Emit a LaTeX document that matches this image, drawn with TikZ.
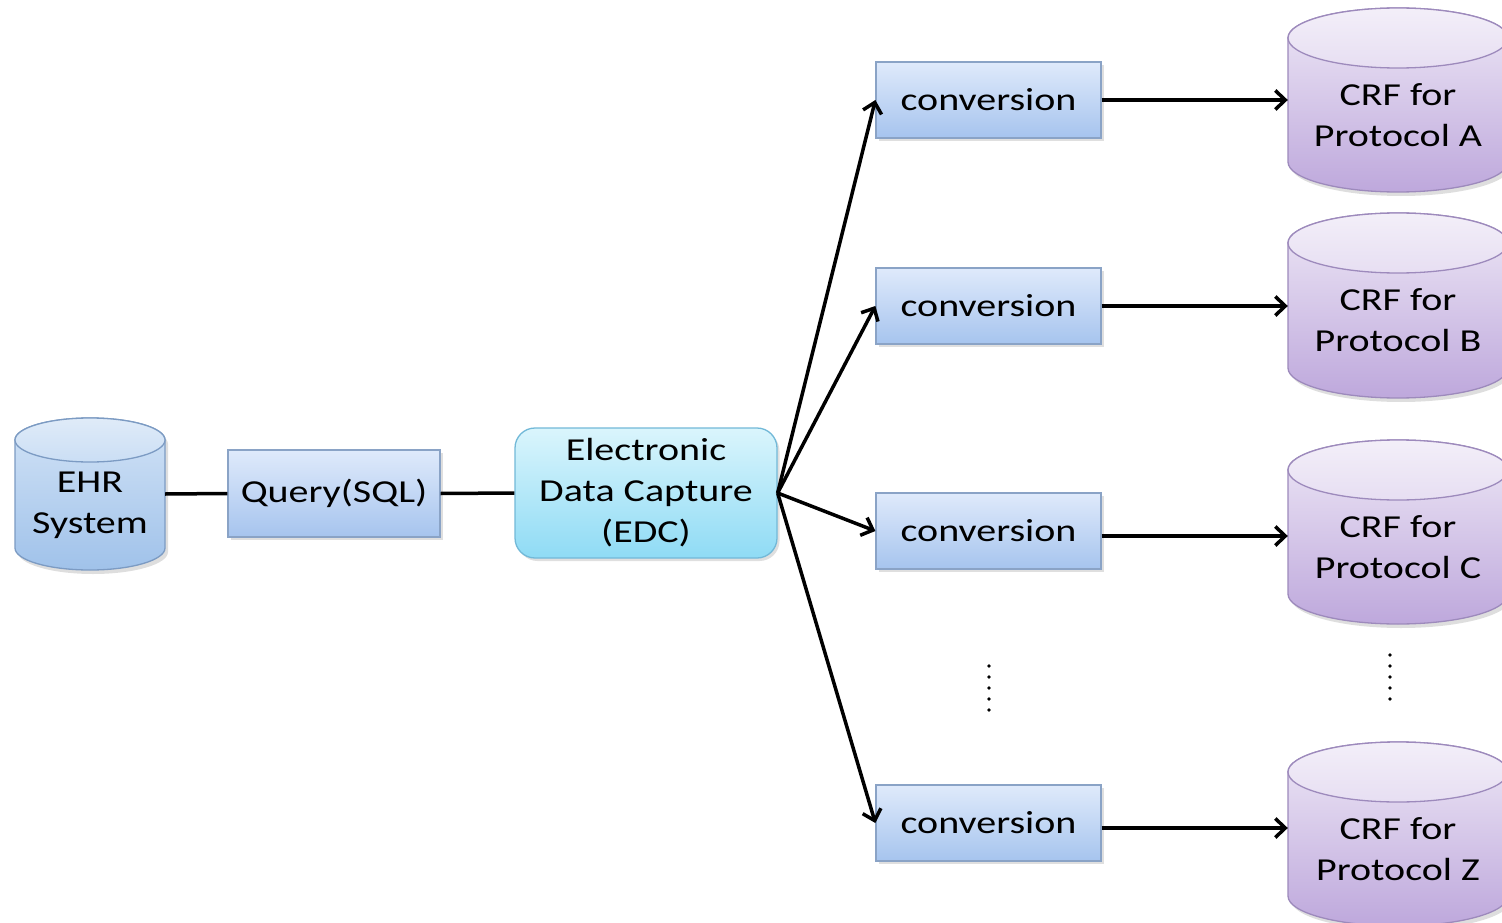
\documentclass[tikz,border=0pt]{standalone}
\usepackage{fontspec}
\setmainfont{Carlito}[FakeStretch=1.25]
\usetikzlibrary{arrows.meta,shadows}

\definecolor{boxtop}{HTML}{DFEAFB}
\definecolor{boxbot}{HTML}{A6C4EE}
\definecolor{boxline}{HTML}{8AA3C6}
\definecolor{edctop}{HTML}{DAF5FC}
\definecolor{edcbot}{HTML}{8FDBF5}
\definecolor{edcline}{HTML}{72B9D8}
\definecolor{ehrtop}{HTML}{D2E3F6}
\definecolor{ehrbot}{HTML}{A0C2EA}
\definecolor{ehrline}{HTML}{7C9BC3}
\definecolor{crftop}{HTML}{EEE8F6}
\definecolor{crfbot}{HTML}{BEA8DC}
\definecolor{crfline}{HTML}{9D8ABC}

\newcommand\diagfont{\fontsize{32}{41}\selectfont}

% Cylinder: #1 name, #2 centre x, #3 top y, #4 bottom y, #5 x radius,
% #6 y radius, #7 colour prefix, #8 text (y values measured downwards)
\newcommand\drawcyl[8]{%
  \pgfmathsetmacro\cyA{-(#3+#6)}%
  \pgfmathsetmacro\cyB{-(#4-#6)}%
  \pgfmathsetmacro\cyW{2*#5}%
  \pgfmathsetmacro\cyH{#4-#3}%
  \pgfmathsetmacro\cyM{-(#3+#4)/2}%
  \pgfmathsetmacro\cyT{\cyM-#6/2}%
  % soft shadow
  \fill[black,opacity=0.13,xshift=3pt,yshift=-4pt]
    (#2-#5,\cyA) -- (#2-#5,\cyB)
    arc[start angle=180,end angle=360,x radius=#5,y radius=#6]
    -- (#2+#5,\cyA)
    arc[start angle=0,end angle=180,x radius=#5,y radius=#6] -- cycle;
  % body
  \shade[top color=#7top,bottom color=#7bot,draw=#7line,line width=1.3pt]
    (#2-#5,\cyA) -- (#2-#5,\cyB)
    arc[start angle=180,end angle=360,x radius=#5,y radius=#6]
    -- (#2+#5,\cyA)
    arc[start angle=0,end angle=180,x radius=#5,y radius=#6] -- cycle;
  % top face
  \shade[top color=#7top!70!white,bottom color=#7top!85!#7bot,draw=#7line,line width=1.3pt]
    (#2,\cyA) ellipse[x radius=#5,y radius=#6];
  \node[minimum width=\cyW pt,minimum height=\cyH pt,inner sep=0pt] (#1) at (#2,\cyM) {};
  \node[font=\diagfont,align=center,inner sep=0pt] (#1-txt) at (#2,\cyT) {#8};
}

\tikzset{
  conn/.style={line width=3.5pt,black},
  arr/.style={conn,-{Straight Barb[length=10pt,width=19pt]}},
  procbox/.style={draw=boxline,line width=1.3pt,top color=boxtop,bottom color=boxbot,
    inner sep=0pt,font=\diagfont,align=center,
    drop shadow={shadow xshift=2.5pt,shadow yshift=-3pt,opacity=0.25}},
  convbox/.style={procbox,minimum width=225pt,minimum height=76pt},
  edcbox/.style={procbox,draw=edcline,top color=edctop,bottom color=edcbot,
    rounded corners=20pt,minimum width=262pt,minimum height=130pt},
  vdot/.style={fill=black,inner sep=0pt,minimum size=3.6pt,circle},
}

\begin{document}
\begin{tikzpicture}[x=1pt,y=1pt]
\useasboundingbox (0,0) rectangle (1502,-923);
\clip (0,0) rectangle (1502,-923);
\fill[white] (0,0) rectangle (1502,-923);

% storage cylinders
\drawcyl{ehr}{90}{418}{570}{75}{22}{ehr}{EHR\\System}
\drawcyl{crfA}{1398}{8}{192}{110}{30}{crf}{CRF for\\Protocol A}
\drawcyl{crfB}{1398}{213}{398}{110}{30}{crf}{CRF for\\Protocol B}
\drawcyl{crfC}{1398}{440}{624}{110}{30}{crf}{CRF for\\Protocol C}
\drawcyl{crfZ}{1398}{742}{926}{110}{30}{crf}{CRF for\\Protocol Z}

% processing steps
\node[procbox,minimum width=212pt,minimum height=87pt] (query) at (334,-493.5) {Query(SQL)};
\node[edcbox] (edc) at (646,-493) {Electronic\\Data Capture\\(EDC)};
\node[convbox] (convA) at (988.5,-100) {conversion};
\node[convbox] (convB) at (988.5,-306) {conversion};
\node[convbox] (convC) at (988.5,-531) {conversion};
\node[convbox] (convZ) at (988.5,-823) {conversion};

% connectors
\draw[conn] (ehr.east) -- (query.west);
\draw[conn] (query.east) -- (edc.west);
\foreach \c in {convA,convB,convC,convZ}
  \draw[arr] (edc.east) -- (\c.west);
\draw[arr] (convA.east) -- (convA.east -| crfA.west);
\draw[arr] (convB.east) -- (convB.east -| crfB.west);
\draw[arr] ([yshift=-5pt]convC.east) -- ([yshift=-5pt]convC.east -| crfC.west);
\draw[arr] ([yshift=-5pt]convZ.east) -- ([yshift=-5pt]convZ.east -| crfZ.west);

% vertical ellipses
\foreach \k in {0,...,4} {
  \node[vdot] (dl\k) at (989,-666-11*\k) {};
  \node[vdot] (dr\k) at (1390,-655-11*\k) {};
}
\end{tikzpicture}
\end{document}
